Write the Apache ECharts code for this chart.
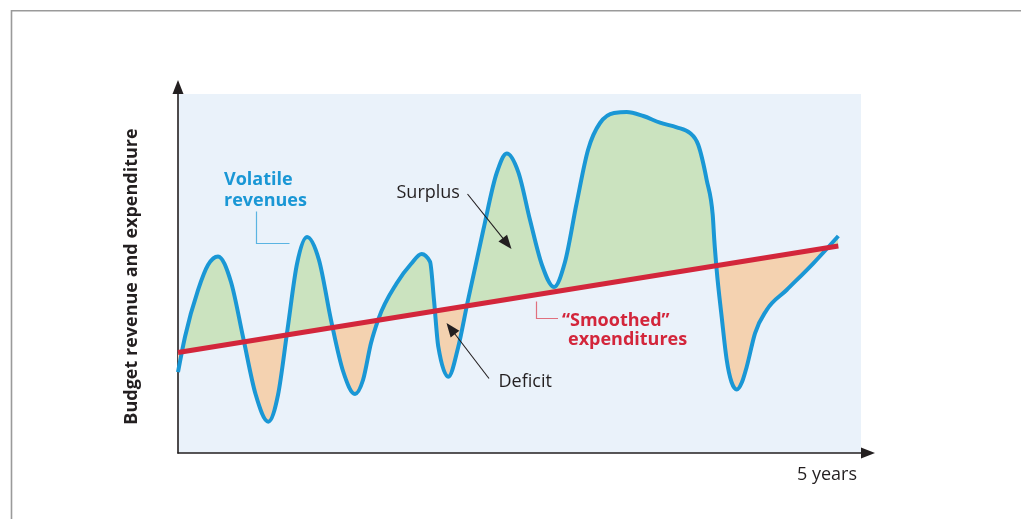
<!DOCTYPE html>
<html>
<head>
<meta charset="utf-8">
<script src="https://cdn.jsdelivr.net/npm/echarts@6/dist/echarts.min.js"></script>
<style>
  html, body { margin: 0; padding: 0; background: #ffffff; }
  #chart { width: 1021px; height: 519px; }
</style>
</head>
<body>
<div id="chart"></div>
<script>
// ---- Data (x: % of the 5-year span, y: relative budget level 0-100) ----
const revenueX = [0, 1.02, 2.93, 4.39, 5.86, 7.76, 9.56, 11.35, 13.22, 14.64, 16.03, 17.42, 18.89, 20.64, 22.40, 24.16,
  25.92, 27.09, 28.26, 29.33, 32.02, 34.11, 35.68, 36.90, 37.48, 38.11, 39.58, 41.04, 42.36, 44.70, 46.66, 48.13,
  49.85, 51.54, 53.29, 55.05, 56.66, 58.37, 60.03, 61.79, 63.84, 65.70, 68.13, 70.57, 73.02, 74.96, 76.18, 77.41,
  78.29, 78.52, 78.87, 79.60, 80.34, 81.04, 81.81, 82.58, 83.27, 84.48, 86.19, 89.11, 93.02, 96.68];
const revenueY = [22.56, 32.31, 45.40, 52.37, 54.74, 47.63, 31.95, 16.43, 8.72, 16.16, 34.40, 52.65, 60.17, 53.76, 37.05, 22.84,
  16.43, 20.33, 30.64, 37.24, 47.27, 52.65, 55.43, 53.29, 42.62, 29.61, 21.25, 29.61, 41.70, 62.12, 77.99, 83.43,
  78.11, 64.90, 52.37, 46.24, 53.20, 69.64, 84.40, 91.92, 94.71, 94.99, 93.87, 92.01, 90.72, 89.14, 85.79, 76.04,
  66.30, 59.33, 50.97, 37.97, 25.91, 19.78, 17.69, 19.78, 24.04, 33.34, 39.83, 45.40, 52.84, 60.45];
const expenditureX = [0, 96.68];
const expenditureY = [28.0, 57.66];

const COLORS = {
  bg: '#eaf2fa', blue: '#1a97d5', red: '#d3263b', green: '#cbe3bf', orange: '#f4d2b0',
  axis: '#231f20', text: '#231f20', frame: '#9a9a9a', blueLeader: '#5ab4e2', redLeader: '#e0707e'
};
const FONT = '"Open Sans", "Noto Sans", sans-serif';

// monotone (Steffen) cubic curve y(x) through the projected points, as Bezier path data
function smoothPath(pts) {
  const n = pts.length, m = [];
  const sign = function (v) { return v > 0 ? 1 : (v < 0 ? -1 : 0); };
  for (let i = 0; i < n; i++) {
    if (i === 0 || i === n - 1) {
      const a = i === 0 ? 0 : n - 2;
      const s = (pts[a + 1][1] - pts[a][1]) / (pts[a + 1][0] - pts[a][0]);
      m[i] = s;
    } else {
      const h0 = pts[i][0] - pts[i - 1][0], h1 = pts[i + 1][0] - pts[i][0];
      const s0 = (pts[i][1] - pts[i - 1][1]) / h0, s1 = (pts[i + 1][1] - pts[i][1]) / h1;
      const p = (s0 * h1 + s1 * h0) / (h0 + h1);
      m[i] = (sign(s0) + sign(s1)) * Math.min(Math.abs(s0), Math.abs(s1), 0.5 * Math.abs(p));
    }
  }
  // end tangents: pull toward the neighbouring segment so ends stay smooth
  m[0] = (3 * (pts[1][1] - pts[0][1]) / (pts[1][0] - pts[0][0]) - m[1]) / 2;
  m[n - 1] = (3 * (pts[n - 1][1] - pts[n - 2][1]) / (pts[n - 1][0] - pts[n - 2][0]) - m[n - 2]) / 2;
  let d = 'M' + pts[0][0] + ',' + pts[0][1];
  for (let i = 0; i < n - 1; i++) {
    const h = pts[i + 1][0] - pts[i][0];
    const c1 = [pts[i][0] + h / 3, pts[i][1] + m[i] * h / 3];
    const c2 = [pts[i + 1][0] - h / 3, pts[i + 1][1] - m[i + 1] * h / 3];
    d += ' C' + c1[0] + ',' + c1[1] + ' ' + c2[0] + ',' + c2[1] + ' ' + pts[i + 1][0] + ',' + pts[i + 1][1];
  }
  return d;
}

function arrow(sx, sy, tx, ty) {
  const dx = tx - sx, dy = ty - sy, len = Math.sqrt(dx * dx + dy * dy);
  const ux = dx / len, uy = dy / len, nx = -uy, ny = ux;
  const hl = 14, hw = 5.5;
  const bx = tx - ux * hl, by = ty - uy * hl;
  return [
    { type: 'line', shape: { x1: sx, y1: sy, x2: bx + ux * 2, y2: by + uy * 2 }, style: { stroke: COLORS.text, lineWidth: 1.1 }, z: 20 },
    { type: 'polygon', shape: { points: [[tx, ty], [bx + nx * hw, by + ny * hw], [bx - nx * hw, by - ny * hw]] }, style: { fill: COLORS.text }, z: 20 }
  ];
}

function txt(x, y, text, opts) {
  return {
    type: 'text', x: x, y: y, z: 20,
    style: Object.assign({ text: text, font: 'normal 18px ' + FONT, fill: COLORS.text, align: 'left', verticalAlign: 'middle' }, opts || {})
  };
}

const chart = echarts.init(document.getElementById('chart'), null, { renderer: 'canvas' });

const axisCommon = {
  type: 'value', min: 0, max: 100,
  axisTick: { show: false }, axisLabel: { show: false }, splitLine: { show: false },
  axisLine: {
    show: true, onZero: false,
    lineStyle: { color: COLORS.axis, width: 1.6 },
    symbol: ['none', 'triangle'], symbolSize: [11, 14], symbolOffset: [0, 7]
  }
};

const option = {
  animation: false,
  backgroundColor: '#ffffff',
  grid: { left: 178, right: 160, top: 94, bottom: 66, show: true, backgroundColor: COLORS.bg, borderWidth: 0 },
  xAxis: Object.assign({}, axisCommon),
  yAxis: Object.assign({}, axisCommon),
  series: [
    {
      type: 'custom',
      name: 'Volatile revenues',
      coordinateSystem: 'cartesian2d',
      data: [[revenueX[0], revenueY[0]]],
      z: 2,
      silent: true,
      renderItem: function (params, api) {
        const pts = revenueX.map(function (x, i) { return api.coord([x, revenueY[i]]); });
        const r0 = api.coord([expenditureX[0], expenditureY[0]]);
        const r1 = api.coord([expenditureX[1], expenditureY[1]]);
        const cs = params.coordSys;
        const top = cs.y, bot = cs.y + cs.height;
        const xL = pts[0][0], xR = pts[pts.length - 1][0];
        const curve = smoothPath(pts);
        return {
          type: 'group',
          children: [
            {
              type: 'path',
              shape: { pathData: curve + ' L' + xR + ',' + (bot + 5) + ' L' + xL + ',' + (bot + 5) + ' Z' },
              style: { fill: COLORS.green, stroke: null },
              clipPath: { type: 'polygon', shape: { points: [r0, r1, [r1[0] + 2, top - 5], [r0[0] - 2, top - 5]] } }
            },
            {
              type: 'path',
              shape: { pathData: curve + ' L' + xR + ',' + (top - 5) + ' L' + xL + ',' + (top - 5) + ' Z' },
              style: { fill: COLORS.orange, stroke: null },
              clipPath: { type: 'polygon', shape: { points: [r0, r1, [r1[0] + 2, bot + 5], [r0[0] - 2, bot + 5]] } }
            },
            {
              type: 'path',
              shape: { pathData: curve },
              style: { fill: null, stroke: COLORS.blue, lineWidth: 4, lineJoin: 'round', lineCap: 'butt' }
            }
          ]
        };
      }
    },
    {
      type: 'line',
      name: '"Smoothed" expenditures',
      data: expenditureX.map(function (x, i) { return [x, expenditureY[i]]; }),
      symbol: 'none',
      lineStyle: { color: COLORS.red, width: 5, cap: 'butt' },
      z: 4,
      silent: true
    }
  ],
  graphic: [
    // frame
    { type: 'polyline', shape: { points: [[11.5, 519], [11.5, 10.75], [1021, 10.75]] }, style: { stroke: COLORS.frame, lineWidth: 1.6, fill: null }, z: 1 },
    // y axis title
    { type: 'text', x: 132, y: 276.5, rotation: Math.PI / 2, z: 20,
      style: { text: 'Budget revenue and expenditure', font: 'bold 18px ' + FONT, fill: COLORS.text, align: 'center', verticalAlign: 'middle' } },
    // x axis label
    txt(857, 475, '5 years', { align: 'right' }),
    // volatile revenues label + leader
    txt(224, 180, 'Volatile', { font: 'bold 18px ' + FONT, fill: COLORS.blue }),
    txt(224, 200.5, 'revenues', { font: 'bold 18px ' + FONT, fill: COLORS.blue }),
    { type: 'polyline', shape: { points: [[256.5, 211.5], [256.5, 243.5], [289.5, 243.5]] }, style: { stroke: COLORS.blueLeader, lineWidth: 1.2, fill: null }, z: 20 },
    // smoothed expenditures label + leader
    txt(562, 321, '\u201cSmoothed\u201d', { font: 'bold 18px ' + FONT, fill: COLORS.red }),
    txt(568, 339.5, 'expenditures', { font: 'bold 18px ' + FONT, fill: COLORS.red }),
    { type: 'polyline', shape: { points: [[536.5, 301.5], [536.5, 318.5], [558, 318.5]] }, style: { stroke: COLORS.redLeader, lineWidth: 1.2, fill: null }, z: 20 },
    // surplus / deficit
    txt(396.5, 193, 'Surplus'),
    txt(498.5, 382, 'Deficit'),
  ].concat(arrow(467.5, 194, 511.5, 249)).concat(arrow(489, 378.5, 446.5, 323))
};

chart.setOption(option);
</script>
</body>
</html>
